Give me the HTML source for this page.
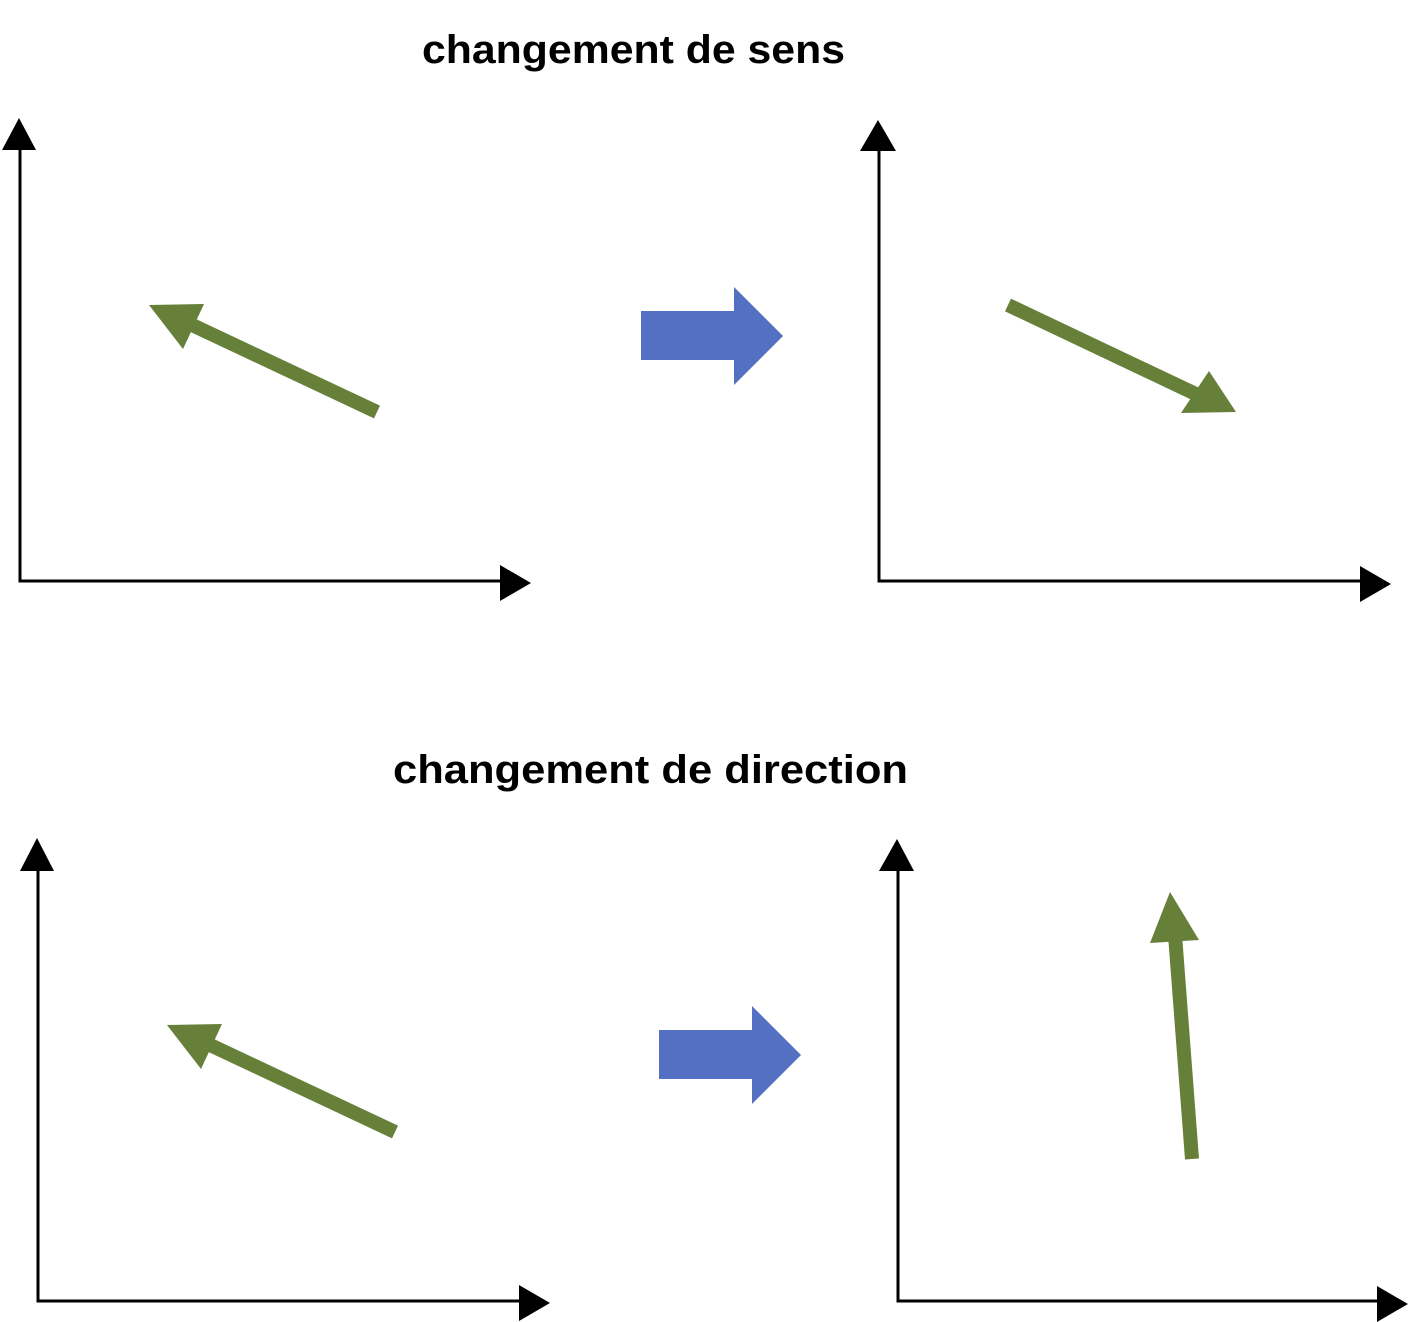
<!DOCTYPE html>
<html><head><meta charset="utf-8"><style>html,body{margin:0;padding:0;background:#fff}svg{display:block}</style></head>
<body>
<svg width="1408" height="1322" viewBox="0 0 1408 1322" xmlns="http://www.w3.org/2000/svg">
<g font-family="Liberation Sans, sans-serif" font-weight="bold" font-size="40" fill="#000">
<text x="422" y="63" textLength="423" lengthAdjust="spacingAndGlyphs">changement de sens</text>
<text x="393" y="783" textLength="515" lengthAdjust="spacingAndGlyphs">changement de direction</text>
</g>
<g stroke="#000" stroke-width="3" fill="none">
<polyline points="20,148 20,581 502,581"/>
<polyline points="879,150 879,581 1362,581"/>
<polyline points="38,868 38,1301 521,1301"/>
<polyline points="898,870 898,1301 1380,1301"/>
</g>
<g fill="#000">
<polygon points="2,150 36,150 19,118"/>
<polygon points="500,565 500,601 531,583"/>
<polygon points="860,151 896,151 878,120"/>
<polygon points="1360,566 1360,602 1391,584"/>
<polygon points="20,871 54,871 37,838"/>
<polygon points="519,1285 519,1321 550,1303"/>
<polygon points="879,871 914,871 897,839"/>
<polygon points="1377,1286 1377,1322 1408,1304"/>
</g>
<g fill="#5470C2">
<polygon points="641,311 734,311 734,287 783,336 734,385 734,360 641,360"/>
<polygon points="659,1030 752,1030 752,1006 801,1055 752,1104 752,1079 659,1079"/>
</g>
<g stroke="#66803A" stroke-width="14" fill="none">
<line x1="377" y1="412" x2="190" y2="324"/>
<line x1="1008" y1="305" x2="1200" y2="396"/>
<line x1="395" y1="1132" x2="208" y2="1044"/>
<line x1="1192" y1="1159" x2="1175" y2="935"/>
</g>
<g fill="#66803A">
<polygon points="149,305 204,304 183,349"/>
<polygon points="1236,412 1209,371 1181,413"/>
<polygon points="167,1025 222,1024 201,1069"/>
<polygon points="1170,892 1150,943 1199,940"/>
</g>
</svg>
</body></html>
